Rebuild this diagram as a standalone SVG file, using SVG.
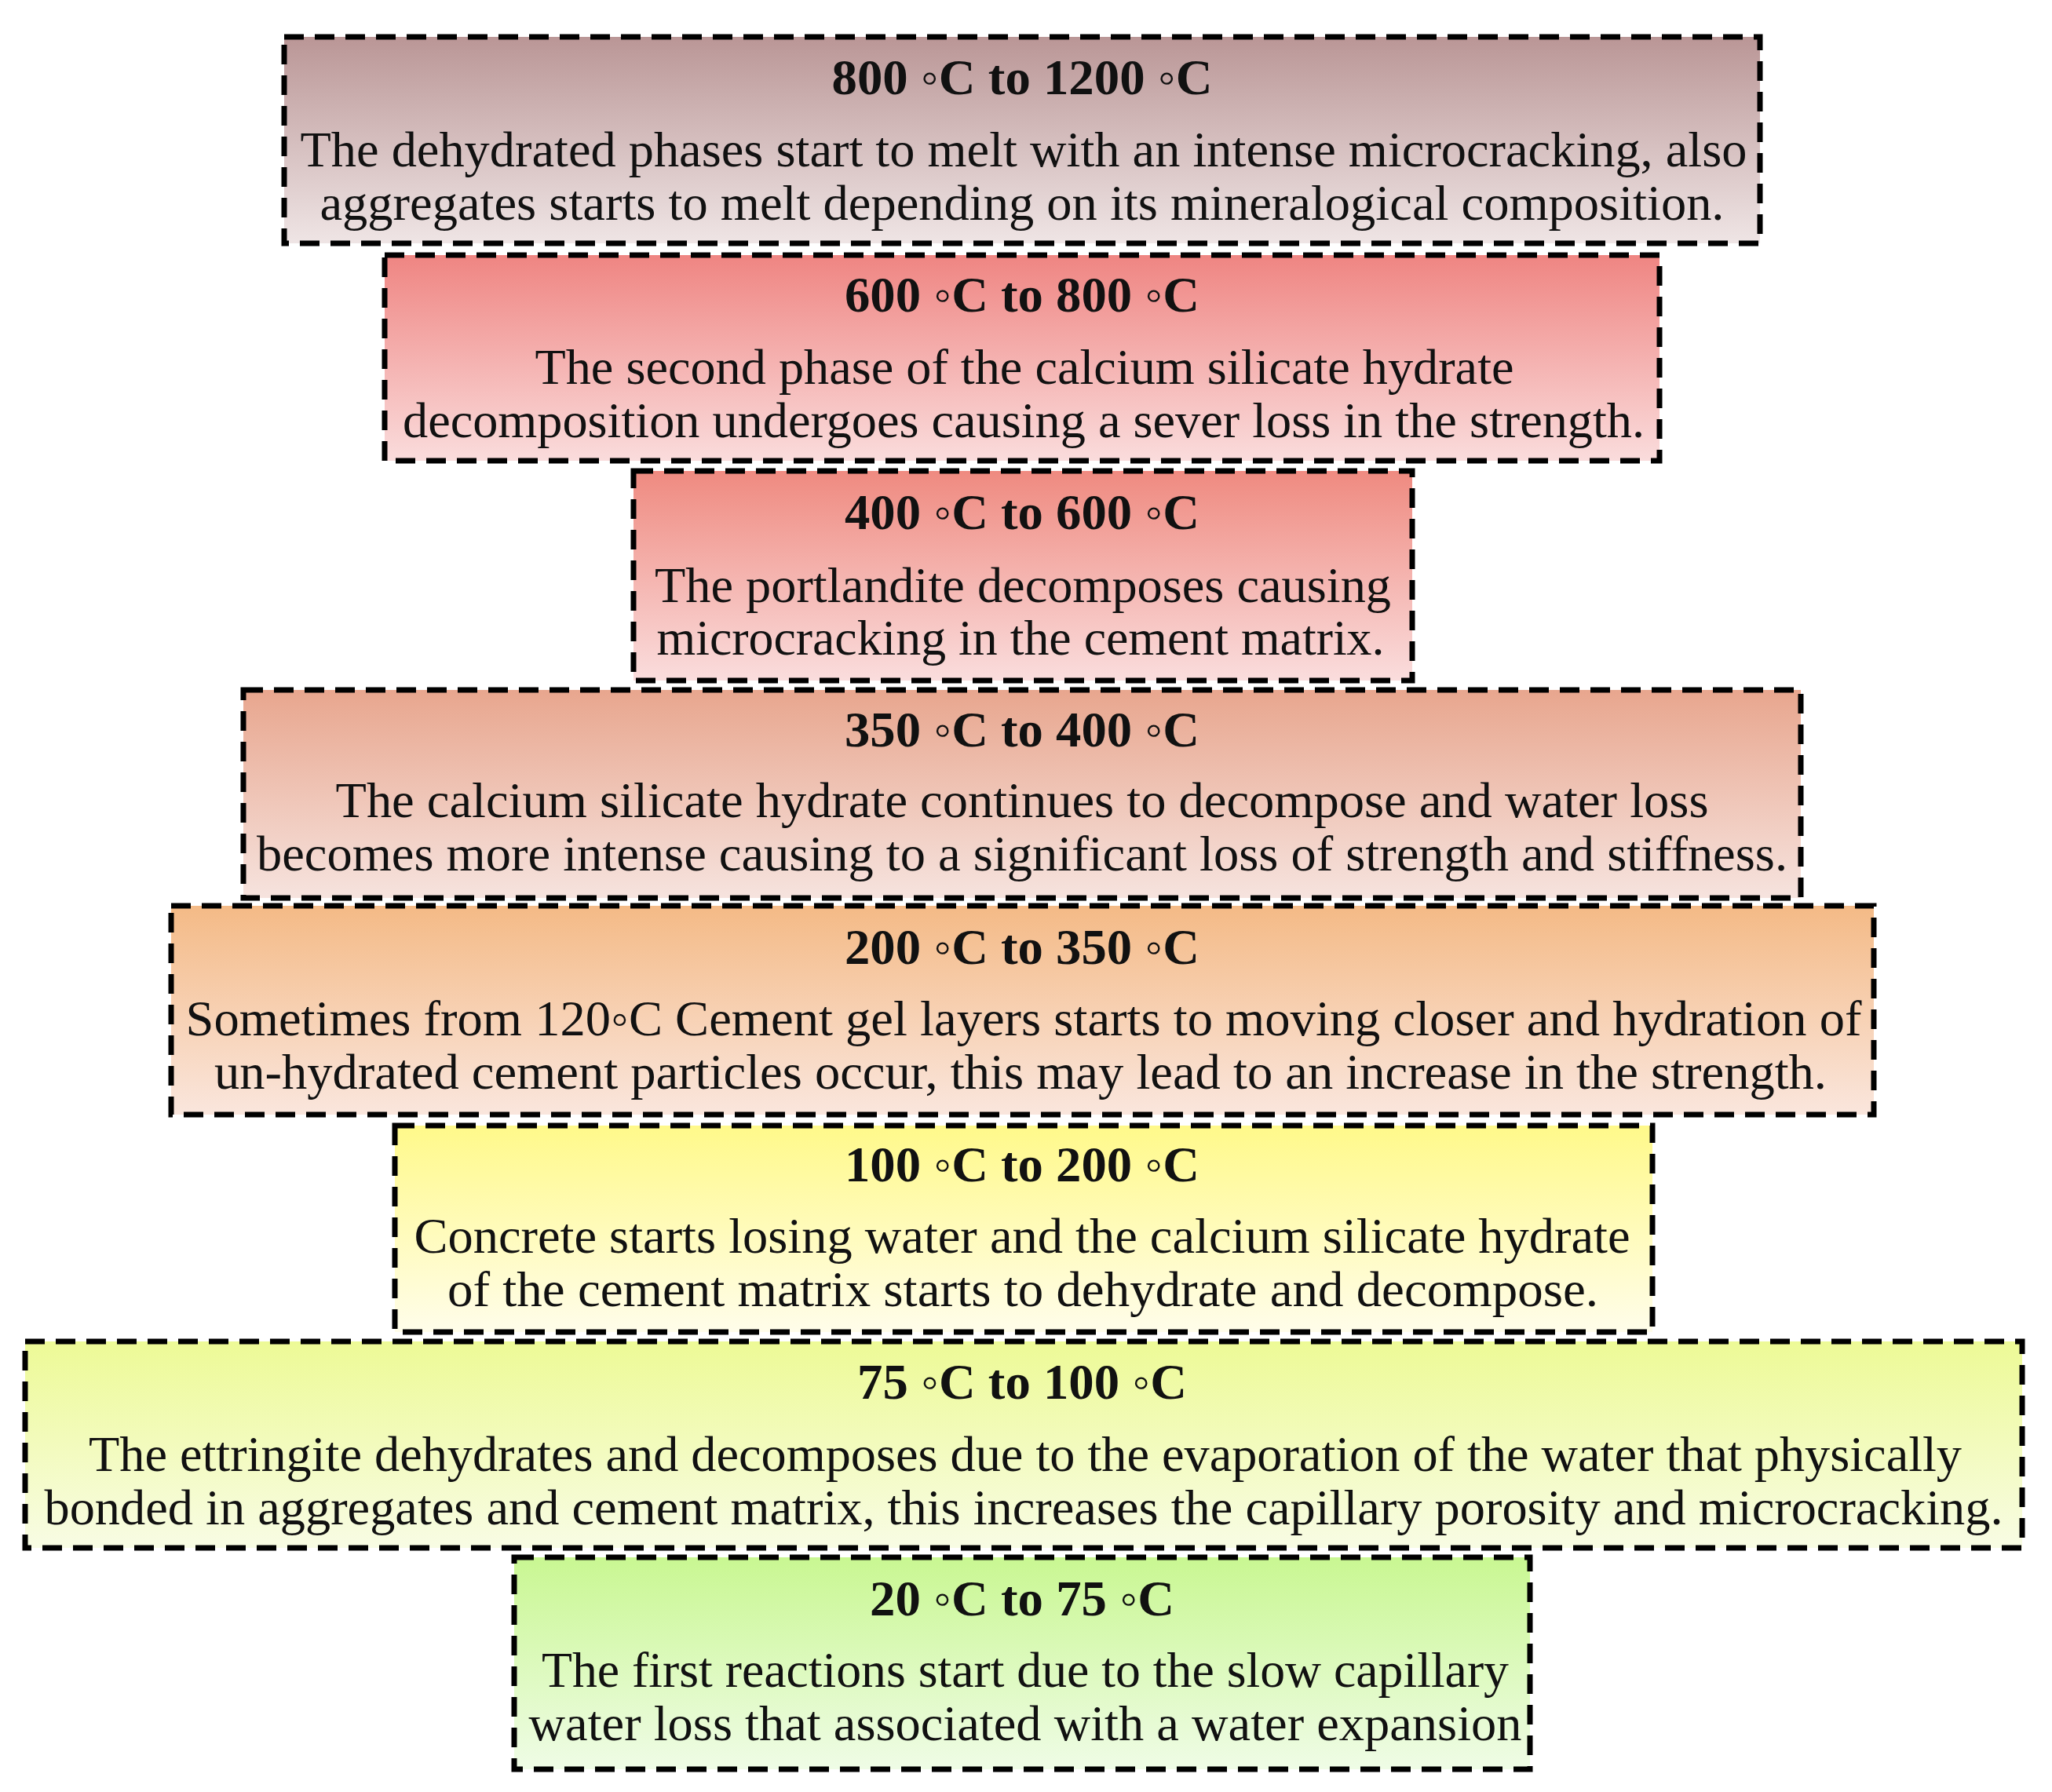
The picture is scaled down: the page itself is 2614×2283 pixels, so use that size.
<svg xmlns="http://www.w3.org/2000/svg" width="2614" height="2283" viewBox="0 0 2614 2283">
<style>
.box{stroke:#000;stroke-width:7;stroke-dasharray:25 14}
.t{font-family:"Liberation Serif","Times New Roman",serif;font-size:64px;font-weight:bold;fill:#111;text-anchor:middle}
.b{font-family:"Liberation Serif","Times New Roman",serif;font-size:63px;fill:#111;text-anchor:middle}
.d{font-weight:normal}
</style>
<defs>
<linearGradient id="g1" x1="0" y1="0" x2="0" y2="1"><stop offset="0" stop-color="#BA9696"/><stop offset="1" stop-color="#EFE5E5"/></linearGradient>
<linearGradient id="g2" x1="0" y1="0" x2="0" y2="1"><stop offset="0" stop-color="#EF8582"/><stop offset="1" stop-color="#FADCDC"/></linearGradient>
<linearGradient id="g3" x1="0" y1="0" x2="0" y2="1"><stop offset="0" stop-color="#EF8A80"/><stop offset="1" stop-color="#FADDDD"/></linearGradient>
<linearGradient id="g4" x1="0" y1="0" x2="0" y2="1"><stop offset="0" stop-color="#E8A68E"/><stop offset="1" stop-color="#F6E3DE"/></linearGradient>
<linearGradient id="g5" x1="0" y1="0" x2="0" y2="1"><stop offset="0" stop-color="#F4BA86"/><stop offset="1" stop-color="#FAE6DD"/></linearGradient>
<linearGradient id="g6" x1="0" y1="0" x2="0" y2="1"><stop offset="0" stop-color="#FFF98A"/><stop offset="1" stop-color="#FFFDEA"/></linearGradient>
<linearGradient id="g7" x1="0" y1="0" x2="0" y2="1"><stop offset="0" stop-color="#EDFA96"/><stop offset="1" stop-color="#F8FCE4"/></linearGradient>
<linearGradient id="g8" x1="0" y1="0" x2="0" y2="1"><stop offset="0" stop-color="#C9F792"/><stop offset="1" stop-color="#EFFCE6"/></linearGradient>
</defs>
<rect width="2614" height="2283" fill="#fff"/>
<g id="connectors"></g>
<g id="n800">
<rect class="box" x="362" y="47" width="1880" height="263" fill="url(#g1)"/>
<text class="t" x="1302" y="120" textLength="485" lengthAdjust="spacingAndGlyphs">800 <tspan class="d">◦</tspan>C to 1200 <tspan class="d">◦</tspan>C</text>
<text class="b" x="1304" y="212" textLength="1843" lengthAdjust="spacingAndGlyphs">The dehydrated phases start to melt with an intense microcracking, also</text>
<text class="b" x="1302" y="280" textLength="1789" lengthAdjust="spacingAndGlyphs">aggregates starts to melt depending on its mineralogical composition.</text>
</g>
<g id="n600">
<rect class="box" x="490" y="325" width="1624" height="262" fill="url(#g2)"/>
<text class="t" x="1302" y="397" textLength="452" lengthAdjust="spacingAndGlyphs">600 <tspan class="d">◦</tspan>C to 800 <tspan class="d">◦</tspan>C</text>
<text class="b" x="1305" y="489" textLength="1247" lengthAdjust="spacingAndGlyphs">The second phase of the calcium silicate hydrate</text>
<text class="b" x="1304" y="557" textLength="1582" lengthAdjust="spacingAndGlyphs">decomposition undergoes causing a sever loss in the strength.</text>
</g>
<g id="n400">
<rect class="box" x="807" y="600" width="992" height="267" fill="url(#g3)"/>
<text class="t" x="1302" y="674" textLength="452" lengthAdjust="spacingAndGlyphs">400 <tspan class="d">◦</tspan>C to 600 <tspan class="d">◦</tspan>C</text>
<text class="b" x="1303" y="767" textLength="938" lengthAdjust="spacingAndGlyphs">The portlandite decomposes causing</text>
<text class="b" x="1300" y="834" textLength="927" lengthAdjust="spacingAndGlyphs">microcracking in the cement matrix.</text>
</g>
<g id="n350">
<rect class="box" x="310" y="879" width="1984" height="265" fill="url(#g4)"/>
<text class="t" x="1302" y="951" textLength="452" lengthAdjust="spacingAndGlyphs">350 <tspan class="d">◦</tspan>C to 400 <tspan class="d">◦</tspan>C</text>
<text class="b" x="1302" y="1041" textLength="1749" lengthAdjust="spacingAndGlyphs">The calcium silicate hydrate continues to decompose and water loss</text>
<text class="b" x="1302" y="1109" textLength="1950" lengthAdjust="spacingAndGlyphs">becomes more intense causing to a significant loss of strength and stiffness.</text>
</g>
<g id="n200">
<rect class="box" x="218" y="1154" width="2169" height="266" fill="url(#g5)"/>
<text class="t" x="1302" y="1228" textLength="452" lengthAdjust="spacingAndGlyphs">200 <tspan class="d">◦</tspan>C to 350 <tspan class="d">◦</tspan>C</text>
<text class="b" x="1304" y="1319" textLength="2135" lengthAdjust="spacingAndGlyphs">Sometimes from 120◦C Cement gel layers starts to moving closer and hydration of</text>
<text class="b" x="1300" y="1387" textLength="2054" lengthAdjust="spacingAndGlyphs">un-hydrated cement particles occur, this may lead to an increase in the strength.</text>
</g>
<g id="n100">
<rect class="box" x="503" y="1434" width="1602" height="263" fill="url(#g6)"/>
<text class="t" x="1302" y="1505" textLength="452" lengthAdjust="spacingAndGlyphs">100 <tspan class="d">◦</tspan>C to 200 <tspan class="d">◦</tspan>C</text>
<text class="b" x="1302" y="1596" textLength="1549" lengthAdjust="spacingAndGlyphs">Concrete starts losing water and the calcium silicate hydrate</text>
<text class="b" x="1303" y="1664" textLength="1466" lengthAdjust="spacingAndGlyphs">of the cement matrix starts to dehydrate and decompose.</text>
</g>
<g id="n75">
<rect class="box" x="32" y="1709" width="2544" height="263" fill="url(#g7)"/>
<text class="t" x="1302" y="1782" textLength="420" lengthAdjust="spacingAndGlyphs">75 <tspan class="d">◦</tspan>C to 100 <tspan class="d">◦</tspan>C</text>
<text class="b" x="1306" y="1874" textLength="2386" lengthAdjust="spacingAndGlyphs">The ettringite dehydrates and decomposes due to the evaporation of the water that physically</text>
<text class="b" x="1304" y="1942" textLength="2495" lengthAdjust="spacingAndGlyphs">bonded in aggregates and cement matrix, this increases the capillary porosity and microcracking.</text>
</g>
<g id="n20">
<rect class="box" x="655" y="1984" width="1294" height="270" fill="url(#g8)"/>
<text class="t" x="1302" y="2058" textLength="388" lengthAdjust="spacingAndGlyphs">20 <tspan class="d">◦</tspan>C to 75 <tspan class="d">◦</tspan>C</text>
<text class="b" x="1306" y="2149" textLength="1232" lengthAdjust="spacingAndGlyphs">The first reactions start due to the slow capillary</text>
<text class="b" x="1306" y="2217" textLength="1265" lengthAdjust="spacingAndGlyphs">water loss that associated with a water expansion</text>
</g>
</svg>
